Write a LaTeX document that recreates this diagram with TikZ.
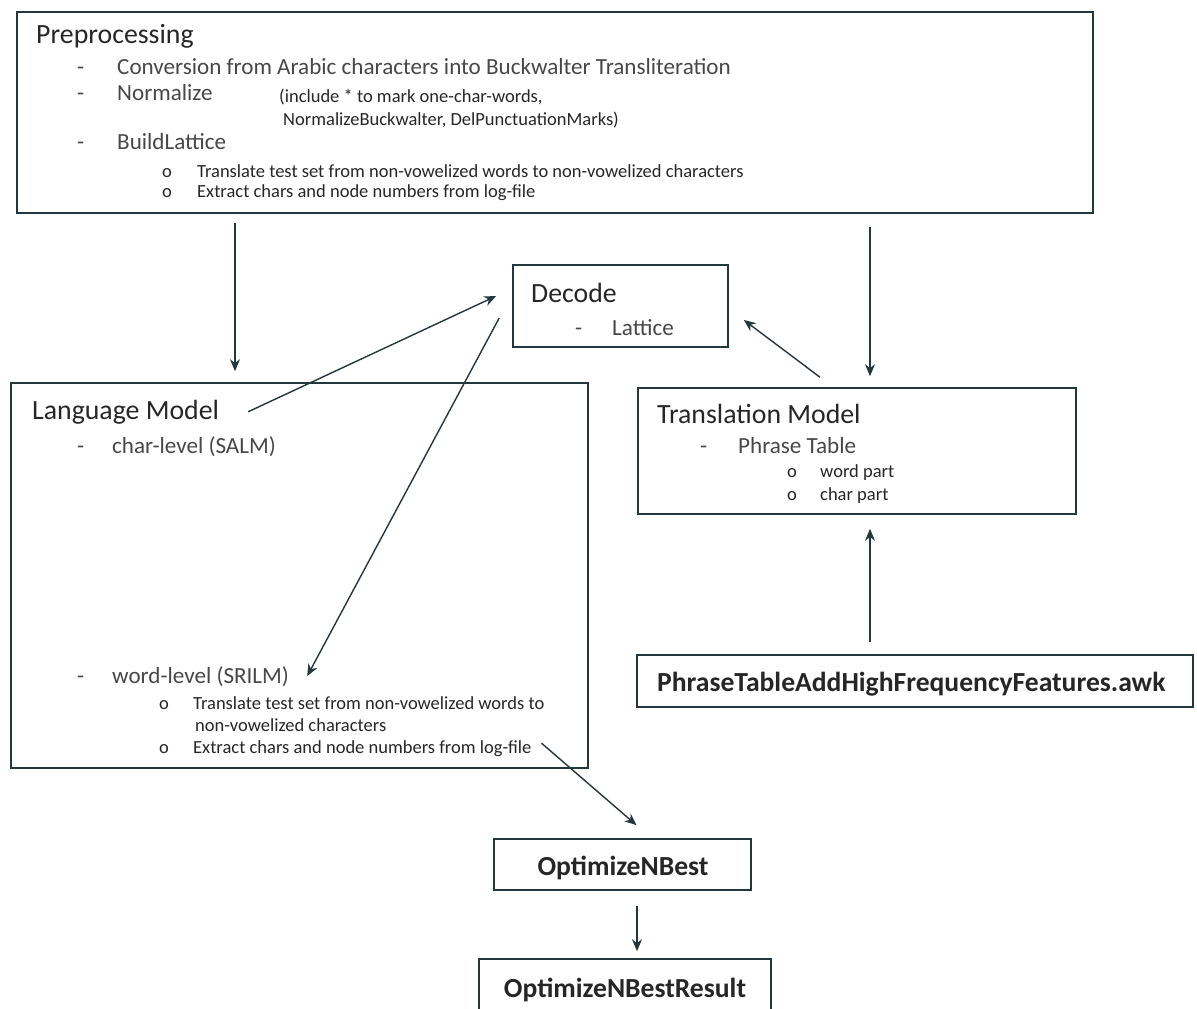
\documentclass[tikz,border=0pt]{standalone}
\usepackage{fontspec}
\setmainfont{Carlito}
\usetikzlibrary{arrows.meta,positioning}
\definecolor{linecol}{RGB}{35,55,62}
\definecolor{textcol}{RGB}{38,38,38}

\begin{document}
\begin{tikzpicture}[x=1pt,y=-1pt,
  block node/.style={draw=linecol,line width=1.6pt,rectangle,inner sep=0pt},
  head text/.style={anchor=base west,inner sep=0pt,text=textcol,font=\fontsize{27.8}{32}\selectfont},
  item text/.style={anchor=base west,inner sep=0pt,text=textcol!85,font=\fontsize{23.1}{27}\selectfont},
  small text/.style={anchor=base west,inner sep=0pt,text=textcol,font=\fontsize{18.5}{22}\selectfont},
  bold text/.style={anchor=base west,inner sep=0pt,text=textcol,font=\fontsize{27.6}{32}\selectfont\bfseries},
  flow/.style={->,draw=linecol,line width=1.4pt},
  >={Stealth[length=12pt,width=10pt]}]

  \useasboundingbox (0,0) rectangle (1197,1009);
  \clip (0,0) rectangle (1197,1009);

  % Boxes
  \node[block node,minimum width=1076pt,minimum height=201pt] (pre) at (555,112.5) {};
  \node[block node,minimum width=215pt,minimum height=82pt] (dec) at (620.5,306) {};
  \node[block node,minimum width=577pt,minimum height=385pt] (lm) at (299.5,575.5) {};
  \node[block node,minimum width=438pt,minimum height=126pt] (tm) at (857,451) {};
  \node[block node,minimum width=556pt,minimum height=52pt] (ptf) at (915,681) {};
  \node[block node,minimum width=257pt,minimum height=51pt] (ob) at (622.5,864.5) {};
  \node[block node,minimum width=292pt,minimum height=62pt] (obr) at (625,990) {};

  % Preprocessing
  \node[head text] (pretitle) at (36,43) {Preprocessing};
  \node[item text] (predash1) at (77,74) {-};
  \node[item text] (preconv) at (117,74) {Conversion from Arabic characters into Buckwalter Transliteration};
  \node[item text] (predash2) at (77,100) {-};
  \node[item text] (prenorm) at (117,100) {Normalize};
  \node[small text] (preincl) at (279,102) {(include * to mark one-char-words,};
  \node[small text] (prebuck) at (283,125) {NormalizeBuckwalter, DelPunctuationMarks)};
  \node[item text] (predash3) at (77,149) {-};
  \node[item text] (prebuild) at (117,149) {BuildLattice};
  \node[small text] (prebul1) at (162,177) {o};
  \node[small text] (pretrans) at (197,177) {Translate test set from non-vowelized words to non-vowelized characters};
  \node[small text] (prebul2) at (162,197) {o};
  \node[small text] (preextr) at (197,197) {Extract chars and node numbers from log-file};

  % Decode
  \node[head text] (dectitle) at (531,302) {Decode};
  \node[item text] (decdash) at (575,335) {-};
  \node[item text] (declat) at (612,335) {Lattice};

  % Language Model
  \node[head text] (lmtitle) at (32,419) {Language Model};
  \node[item text] (lmdash1) at (77,453) {-};
  \node[item text] (lmchar) at (112,453) {char-level (SALM)};
  \node[item text] (lmdash2) at (77,683) {-};
  \node[item text] (lmword) at (112,683) {word-level (SRILM)};
  \node[small text] (lmbul1) at (159,709) {o};
  \node[small text] (lmtrans) at (193,709) {Translate test set from non-vowelized words to};
  \node[small text] (lmtrans2) at (195,731) {non-vowelized characters};
  \node[small text] (lmbul2) at (159,753) {o};
  \node[small text] (lmextr) at (193,753) {Extract chars and node numbers from log-file};

  % Translation Model
  \node[head text] (tmtitle) at (657,423) {Translation Model};
  \node[item text] (tmdash) at (700,453) {-};
  \node[item text] (tmphrase) at (738,453) {Phrase Table};
  \node[small text] (tmbul1) at (787,477) {o};
  \node[small text] (tmword) at (820,477) {word part};
  \node[small text] (tmbul2) at (787,500) {o};
  \node[small text] (tmchar) at (820,500) {char part};

  % Scripts
  \node[bold text] (ptftext) at (657,691) {PhraseTableAddHighFrequencyFeatures.awk};
  \node[bold text,anchor=base] (obtext) at (623,875) {OptimizeNBest};
  \node[bold text,anchor=base] (obrtext) at (625,997) {OptimizeNBestResult};

  % Arrows
  \coordinate (leftcol) at (235,0);
  \coordinate (rightcol) at (870,0);
  \coordinate (midcol) at (637,0);
  \draw[flow,shorten <=9pt,shorten >=11pt] (pre.south -| leftcol) -- (lm.north -| leftcol);
  \draw[flow,shorten <=13pt,shorten >=11pt] (pre.south -| rightcol) -- (tm.north -| rightcol);
  \draw[flow] ([xshift=29pt]lmtitle.east) -- ([xshift=-16pt,yshift=10pt]dec.west);
  \draw[flow] ([xshift=-13pt,yshift=-12pt]dec.west) -- ([xshift=18pt]lmword.east);
  \draw[flow] ([xshift=-37pt,yshift=10pt]tm.north) -- ([xshift=15pt,yshift=-14pt]dec.east);
  \draw[flow,shorten <=12pt,shorten >=14pt] (ptf.north -| rightcol) -- (tm.south -| rightcol);
  \draw[flow] ([xshift=10pt,yshift=5pt]lmextr.east) -- ([xshift=14pt,yshift=13pt]ob.north);
  \draw[flow,shorten <=15pt,shorten >=7pt] (ob.south -| midcol) -- (obr.north -| midcol);
\end{tikzpicture}
\end{document}
